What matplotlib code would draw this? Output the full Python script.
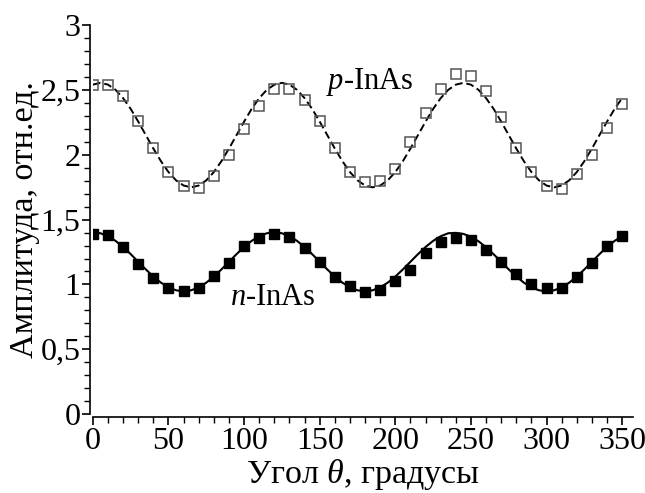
import numpy as np
import matplotlib
matplotlib.use("Agg")
import matplotlib.pyplot as plt
from matplotlib.ticker import MultipleLocator, FuncFormatter

plt.rcParams["font.family"] = ["Liberation Serif", "DejaVu Serif"]
plt.rcParams["mathtext.fontset"] = "custom"
plt.rcParams["mathtext.rm"] = "Liberation Serif"
plt.rcParams["mathtext.it"] = "Liberation Serif:italic"

# measured points, every 10 degrees
theta = list(range(0, 351, 10))
p_inas = [2.54, 2.54, 2.45, 2.26, 2.05, 1.87, 1.76, 1.745, 1.84, 2.00,
          2.20, 2.38, 2.51, 2.51, 2.42, 2.26, 2.05, 1.87, 1.79, 1.80,
          1.89, 2.10, 2.32, 2.51, 2.62, 2.61, 2.49, 2.29, 2.05, 1.87,
          1.76, 1.735, 1.85, 2.00, 2.21, 2.39]
n_inas = [1.393, 1.38, 1.29, 1.16, 1.046, 0.969, 0.948, 0.974, 1.066, 1.167,
          1.295, 1.362, 1.388, 1.367, 1.278, 1.174, 1.054, 0.987, 0.938, 0.961,
          1.025, 1.115, 1.239, 1.324, 1.36, 1.342, 1.264, 1.174, 1.084, 1.007,
          0.969, 0.974, 1.054, 1.167, 1.295, 1.375]

theta_fit = list(range(0, 351, 5))
p_fit = [2.541, 2.555, 2.541, 2.501, 2.437, 2.354, 2.256, 2.152, 2.048, 1.951,
         1.867, 1.803, 1.763, 1.749, 1.763, 1.803, 1.867, 1.951, 2.048, 2.152,
         2.256, 2.354, 2.437, 2.501,
         2.541, 2.555, 2.541, 2.501, 2.437, 2.354, 2.256, 2.152, 2.048, 1.951,
         1.867, 1.803, 1.763, 1.749, 1.763, 1.803, 1.867, 1.951, 2.048, 2.152,
         2.256, 2.354, 2.437, 2.501,
         2.541, 2.555, 2.541, 2.501, 2.437, 2.354, 2.256, 2.152, 2.048, 1.951,
         1.867, 1.803, 1.763, 1.749, 1.763, 1.803, 1.867, 1.951, 2.048, 2.152,
         2.256, 2.354, 2.437]
n_fit = [1.403, 1.395, 1.372, 1.336, 1.289, 1.234, 1.175, 1.116, 1.061, 1.014,
         0.978, 0.955, 0.947, 0.955, 0.978, 1.014, 1.061, 1.116, 1.175, 1.234,
         1.289, 1.336, 1.372, 1.395,
         1.403, 1.395, 1.372, 1.336, 1.289, 1.234, 1.175, 1.116, 1.061, 1.014,
         0.978, 0.955, 0.947, 0.955, 0.978, 1.014, 1.061, 1.116, 1.175, 1.234,
         1.289, 1.336, 1.372, 1.395,
         1.398, 1.390, 1.368, 1.333, 1.287, 1.233, 1.175, 1.116, 1.061, 1.014,
         0.978, 0.955, 0.947, 0.955, 0.978, 1.014, 1.061, 1.116, 1.175, 1.234,
         1.289, 1.336, 1.372]

fig = plt.figure(figsize=(6.45, 4.93), dpi=100)
ax = fig.add_axes([0.144, 0.160, 0.837, 0.789])

ax.plot(theta_fit, p_fit, color="black", lw=1.4, ls=(0, (4, 2)), zorder=2)
ax.plot(theta_fit, n_fit, color="black", lw=1.5, zorder=2)
ax.plot(theta, p_inas, ls="none", marker="s", ms=7.5, mfc="none",
        mec="#555555", mew=1.1, zorder=3)
ax.plot(theta, n_inas, ls="none", marker="s", ms=7.5, mfc="black",
        mec="black", zorder=3)

ax.text(154, 2.56, r"$p$-InAs", fontsize=22, va="center", ha="left")
ax.text(91, 0.90, r"$n$-InAs", fontsize=22, va="center", ha="left")

ax.set_xlim(0, 357)
ax.set_ylim(0, 3)
ax.spines["top"].set_visible(False)
ax.spines["right"].set_visible(False)
ax.spines["left"].set_position(("outward", 2))
ax.spines["bottom"].set_position(("outward", 2))
for s in ("left", "bottom"):
    ax.spines[s].set_linewidth(1.2)

ax.xaxis.set_major_locator(MultipleLocator(50))
ax.xaxis.set_minor_locator(MultipleLocator(10))
ax.yaxis.set_major_locator(MultipleLocator(0.5))
ax.yaxis.set_minor_locator(MultipleLocator(0.1))
ax.yaxis.set_major_formatter(FuncFormatter(lambda v, _: f"{v:g}".replace(".", ",")))
ax.tick_params(which="major", direction="out", length=6, width=1.2,
               labelsize=23, pad=1)
ax.tick_params(which="minor", direction="out", length=4, width=1.0)

ax.set_xlabel(r"Угол $\theta$, градусы", fontsize=24.5, labelpad=1)
ax.set_ylabel("Амплитуда, отн.ед.", fontsize=24.5, labelpad=0)

fig.savefig("out.png", dpi=100)
